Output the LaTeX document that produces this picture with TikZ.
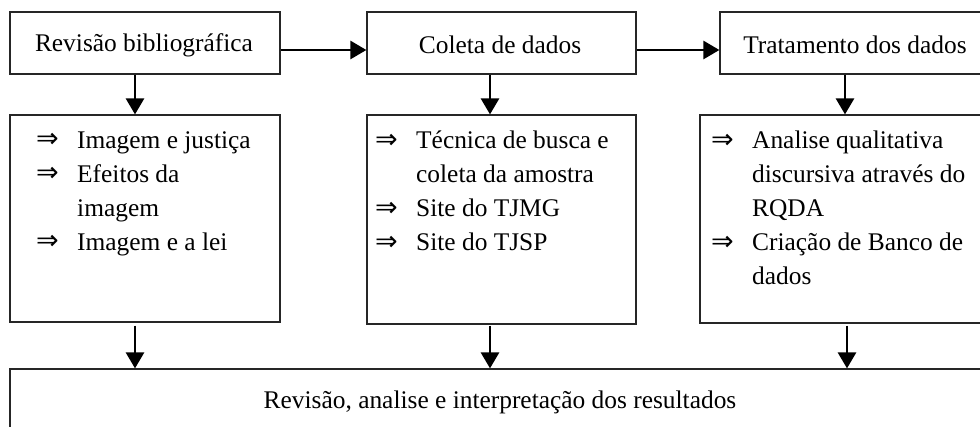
\documentclass[tikz,border=0pt]{standalone}
\usepackage{fontspec}
\setmainfont{Liberation Serif}
\newfontfamily\dvfont{DejaVu Sans}
\usetikzlibrary{arrows.meta,calc}
\begin{document}
\begin{tikzpicture}[x=1pt,y=-1pt,
  box/.style={draw=black!85,line width=1.2pt,rectangle,inner sep=0pt},
  txt/.style={font=\fontsize{25.4}{34}\selectfont,inner sep=0pt},
  lst/.style={font=\fontsize{25.4}{34}\selectfont,inner sep=0pt,anchor=north west,align=left},
  arr/.style={line width=2.8pt,-{Triangle[width=18pt,length=16pt]}}]
\clip (0,0) rectangle (980,427);
\fill[white] (0,0) rectangle (980,427);
% top boxes
\node[box,minimum width=270pt,minimum height=62pt] (t1) at (145,43) {};
\node[box,minimum width=269pt,minimum height=62pt] (t2) at (501.5,43) {};
\node[box,minimum width=270pt,minimum height=62pt] (t3) at (855,43) {};
\node[txt] (t1l) at (144,45) {Revisão bibliográfica};
\node[txt] (t2l) at (500,45) {Coleta de dados};
\node[txt] (t3l) at (855,45) {Tratamento dos dados};
% middle boxes
\node[box,minimum width=270pt,minimum height=207pt] (m1) at (145,218.5) {};
\node[box,minimum width=269pt,minimum height=209pt] (m2) at (501.5,219.5) {};
\node[box,minimum width=290pt,minimum height=208pt] (m3) at (845,219) {};
% bottom box
\node[box,minimum width=980pt,minimum height=80pt] (b) at (500,409) {};
\node[txt] (bl) at (500,402) {Revisão, analise e interpretação dos resultados};
% lists
\newcommand{\bul}{\makebox[41pt][l]{\raisebox{0.5pt}{\fontsize{27}{27}\dvfont ⇒}}}
\node[lst] (l1) at (36,131) {\bul Imagem e justiça\\ \bul Efeitos da\\ \hspace*{41pt}imagem\\ \bul Imagem e a lei};
\node[lst] (l2) at (375,131) {\bul Técnica de busca e\\ \hspace*{41pt}coleta da amostra\\ \bul Site do TJMG\\ \bul Site do TJSP};
\node[lst] (l3) at (711,131) {\bul Analise qualitativa\\ \hspace*{41pt}discursiva através do\\ \hspace*{41pt}RQDA\\ \bul Criação de Banco de\\ \hspace*{41pt}dados};
% horizontal arrows
\draw[arr] ($(t1.east)+(0,7)$) -- ($(t2.west)+(0,7)$);
\draw[arr] ($(t2.east)+(0,7)$) -- ($(t3.west)+(0,7)$);
% down arrows
\draw[arr] ($(t1.south)+(-10,0)$) -- ($(m1.north)+(-10,0)$);
\draw[arr] ($(t2.south)+(-11.5,0)$) -- ($(m2.north)+(-11.5,0)$);
\draw[arr] ($(t3.south)+(-10,0)$) -- ($(m3.north)+(0,0)$);
\draw[arr] ($(m1.south)+(-10,3)$) -- ($(b.north)+(-365,0)$);
\draw[arr] ($(m2.south)+(-11.5,1)$) -- ($(b.north)+(-10,0)$);
\draw[arr] ($(m3.south)+(2,2)$) -- ($(b.north)+(347,0)$);
\end{tikzpicture}
\end{document}
